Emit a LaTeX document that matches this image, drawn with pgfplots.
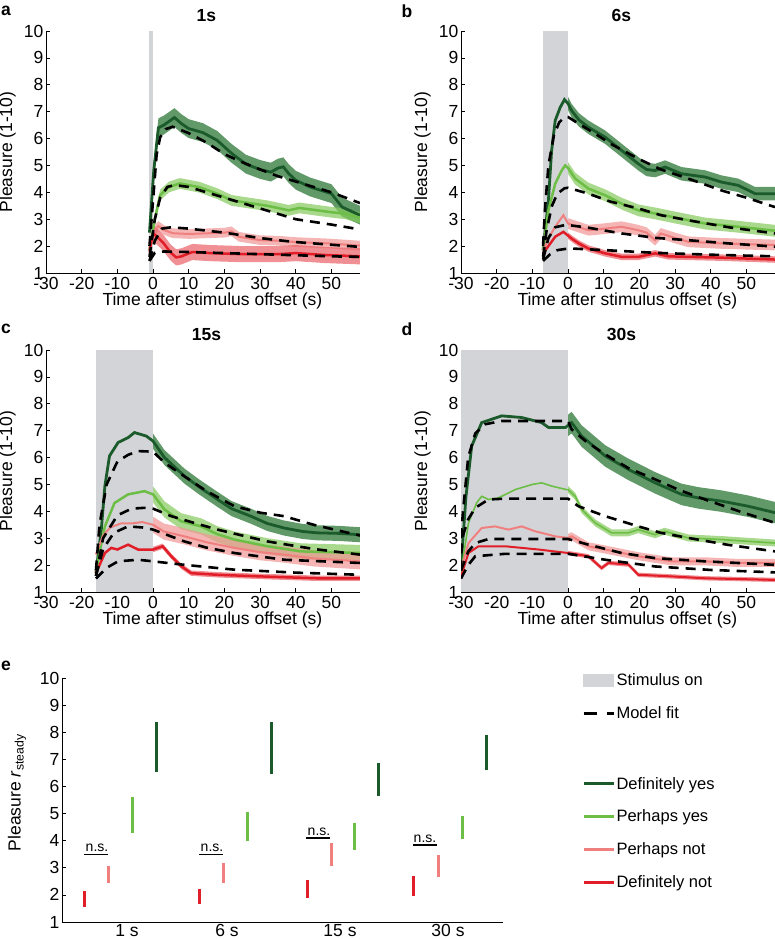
\documentclass[border=0pt]{standalone}
\usepackage{fontspec}
\setmainfont{Liberation Sans}
\usepackage{pgfplots}
\usepackage{pgfplotstable}
\pgfplotsset{compat=1.18}
\usepgfplotslibrary{fillbetween}
\newcommand{\fs}{\fontsize{17.5}{20}\selectfont}
\newcommand{\lfs}{\fontsize{16.5}{19}\selectfont}
\definecolor{dyline}{RGB}{27,90,42}
\definecolor{dyband}{RGB}{30,110,40}
\definecolor{pyline}{RGB}{108,190,70}
\definecolor{pyband}{RGB}{132,201,91}
\definecolor{pnline}{RGB}{240,128,128}
\definecolor{pnband}{RGB}{241,149,149}
\definecolor{dnline}{RGB}{225,30,40}
\definecolor{dnband}{RGB}{234,95,102}
\definecolor{stimgray}{RGB}{211,212,216}

% ---------- panel a (1 s) ----------
\pgfplotstableread{
x y e
-1 2.5 0.2
0.2 4.8 0.35
1.5 6.4 0.35
3 6.5 0.35
6 6.78 0.35
8 6.55 0.35
10 6.37 0.35
14 6.22 0.35
18 5.93 0.35
22 5.45 0.35
26 5.05 0.35
30 4.85 0.35
33 4.75 0.35
35 4.9 0.35
36.5 4.95 0.35
38 4.7 0.35
40 4.45 0.35
44 4.2 0.35
50 3.95 0.35
53 3.45 0.35
58 3.15 0.35
}\aDY
\pgfplotstableread{
x y e
-1 1.85 0.1
0.5 3.0 0.2
2 3.9 0.2
4.5 4.2 0.2
7.5 4.33 0.2
13 4.19 0.2
18 3.95 0.2
22 3.7 0.2
27 3.6 0.2
32 3.5 0.2
38 3.33 0.2
41 3.42 0.2
46 3.33 0.2
50 3.26 0.2
54 3.2 0.2
58 3.05 0.2
}\aPY
\pgfplotstableread{
x y e
-1 1.9 0.1
0.5 2.6 0.18
1.5 2.75 0.18
3 2.6 0.18
5.5 2.48 0.18
10 2.45 0.18
16 2.48 0.18
20 2.5 0.18
22 2.55 0.18
24 2.35 0.18
30 2.22 0.18
35 2.2 0.18
40 2.15 0.18
49 2.1 0.18
58 2.02 0.18
}\aPN
\pgfplotstableread{
x y e
-1 1.8 0.1
0 2.48 0.3
1.5 2.3 0.3
3 2.1 0.3
5 1.75 0.3
6.5 1.58 0.3
8 1.62 0.3
11 1.78 0.3
16 1.74 0.3
25 1.7 0.3
35 1.7 0.3
40 1.74 0.3
48 1.67 0.3
58 1.62 0.3
}\aDN
% ---------- panel b (6 s) ----------
\pgfplotstableread{
x y e
-7 1.85 0.1
-5.5 3.7 0.25
-4.6 5.56 0.25
-3.6 6.67 0.25
-2.2 7.16 0.25
-1 7.45 0.25
0 7.3 0.25
1 7.04 0.25
3 6.7 0.25
5.7 6.42 0.25
10.4 6.05 0.25
15 5.56 0.25
19.7 5.06 0.25
22 4.85 0.25
24.4 4.81 0.25
27.2 4.94 0.25
31.8 4.69 0.25
38.4 4.57 0.25
43 4.38 0.25
47.7 4.26 0.25
52.4 3.95 0.25
58 3.95 0.25
}\bDY
\pgfplotstableread{
x y e
-7 1.85 0.1
-5.5 3.33 0.22
-3.6 4.32 0.22
-1.8 4.81 0.22
-0.8 5.0 0.22
0 4.9 0.22
2 4.51 0.22
5.7 4.14 0.22
10.4 3.89 0.22
15 3.58 0.22
19.7 3.33 0.22
25 3.2 0.22
29 3.09 0.22
38.4 2.84 0.22
47.7 2.72 0.22
58 2.57 0.22
}\bPY
\pgfplotstableread{
x y e
-7 1.85 0.1
-5 2.4 0.2
-3.6 2.72 0.2
-1.3 3.15 0.2
0 2.84 0.2
2 2.75 0.2
5.7 2.59 0.2
10.4 2.65 0.2
15 2.72 0.2
19.7 2.59 0.2
22 2.5 0.2
24.4 2.22 0.2
26 2.47 0.2
30 2.3 0.2
33.7 2.16 0.2
43 2.1 0.2
58 2.04 0.2
}\bPN
\pgfplotstableread{
x y e
-7 1.73 0.08
-3.6 2.35 0.12
-1.3 2.53 0.12
1 2.28 0.12
3 2.1 0.12
5.7 1.91 0.12
10.4 1.73 0.12
15 1.6 0.12
19.7 1.6 0.12
24.4 1.73 0.12
28 1.62 0.12
33.7 1.6 0.12
43 1.57 0.12
58 1.5 0.12
}\bDN
% ---------- panel c (15 s) ----------
\pgfplotstableread{
x y e
-16 1.7 0.1
-14.5 3.32 0.28
-13.5 4.94 0.28
-12.2 6.06 0.28
-9.8 6.56 0.28
-7 6.74 0.28
-5.2 6.93 0.28
-1.9 6.8 0.28
0 6.61 0.28
3.2 6.0 0.28
8.8 5.31 0.28
13 4.9 0.28
18.1 4.44 0.28
22 4.1 0.28
27.4 3.82 0.28
32 3.55 0.28
36.7 3.38 0.28
42 3.25 0.28
46 3.2 0.28
52 3.18 0.28
58 3.13 0.28
}\cDY
\pgfplotstableread{
x y e
-16 1.75 0.1
-14.5 2.8 0.3
-13.5 3.44 0.3
-10.8 4.31 0.3
-7 4.63 0.3
-2.4 4.75 0.3
0 4.63 0.3
3.2 4.07 0.3
7.9 3.63 0.3
13.5 3.44 0.3
18 3.15 0.3
22.8 2.95 0.3
32.1 2.7 0.3
41.4 2.51 0.3
50 2.48 0.3
58 2.45 0.3
}\cPY
\pgfplotstableread{
x y e
-16 2.4 0.15
-14 3.1 0.3
-12 3.4 0.3
-9 3.55 0.3
-6 3.55 0.3
-3 3.6 0.3
0 3.5 0.3
3 3.25 0.3
8.8 3.07 0.3
15 2.85 0.3
22.8 2.64 0.3
30 2.48 0.3
36.7 2.39 0.3
45 2.25 0.3
58 2.14 0.3
}\cPN
\pgfplotstableread{
x y e
-16 1.7 0.08
-13.5 2.45 0.1
-11.7 2.64 0.1
-10 2.58 0.1
-7 2.76 0.1
-4.2 2.58 0.1
0 2.58 0.1
2.7 2.7 0.1
5.1 2.33 0.1
7.9 1.96 0.1
10.7 1.7 0.1
18.1 1.64 0.1
32.1 1.57 0.1
46 1.51 0.1
58 1.51 0.1
}\cDN
% ---------- panel d (30 s) ----------
\pgfplotstableread{
x y e
-30 1.95 0.15
-28.6 4.56 0.4
-27 6.43 0.4
-24.2 7.3 0.4
-18.6 7.55 0.4
-13 7.49 0.4
-7.4 7.3 0.4
-5.5 7.12 0.4
-0.7 7.12 0.4
1 7.3 0.4
3.8 6.8 0.4
10.4 6.06 0.4
16.9 5.56 0.4
24.4 5.06 0.4
31.8 4.63 0.4
36.5 4.5 0.4
43 4.38 0.4
50.5 4.19 0.4
58 3.95 0.4
}\dDY
\pgfplotstableread{
x y e
-30 1.7 0.04
-27.9 3.57 0.04
-25.6 4.32 0.04
-24.2 4.56 0.04
-22.3 4.44 0.04
-19.5 4.5 0.04
-14.8 4.81 0.04
-10 5.0 0.04
-7.4 5.06 0.04
-4.6 4.94 0.04
-0.5 4.81 0.04
0 4.81 0.13
2 4.56 0.13
3.8 4.07 0.13
7.6 3.57 0.13
12.2 3.2 0.13
16.9 3.2 0.13
19.7 3.32 0.13
24.4 3.13 0.13
27 3.26 0.13
33.7 3.01 0.13
43 2.95 0.13
58 2.82 0.13
}\dPY
\pgfplotstableread{
x y e
-30 1.83 0.1
-27.9 2.82 0.15
-24.2 3.38 0.15
-20.5 3.44 0.15
-16.7 3.32 0.15
-13 3.44 0.15
-9.3 3.26 0.15
-3.6 3.07 0.15
0 3.01 0.15
1 3.07 0.15
5.7 2.7 0.15
10.4 2.58 0.15
19.7 2.33 0.15
29 2.14 0.15
38.4 2.14 0.15
47.7 2.08 0.15
58 2.08 0.15
}\dPN
\pgfplotstableread{
x y e
-30 1.58 0.06
-27.9 2.45 0.08
-25.1 2.7 0.08
-17.6 2.7 0.08
-8.3 2.58 0.08
0 2.45 0.08
5.7 2.33 0.08
9.4 1.89 0.08
11.3 2.08 0.08
16.9 2.02 0.08
19.7 1.64 0.08
29 1.58 0.08
38.4 1.51 0.08
58 1.45 0.08
}\dDN

\newcommand{\band}[5]{% name, table, band colour, line colour, line width
  \addplot[name path=#1u, draw=none, forget plot] table[x=x, y expr=\thisrow{y}+\thisrow{e}] {#2};
  \addplot[name path=#1l, draw=none, forget plot] table[x=x, y expr=\thisrow{y}-\thisrow{e}] {#2};
  \addplot[fill=#3, fill opacity=0.7, draw=none, forget plot] fill between[of=#1u and #1l];
  \addplot[#4, line width=#5, forget plot] table[x=x, y=y] {#2};
}

\pgfplotsset{
  base/.style={scale only axis, ymin=1, ymax=10, ytick={1,...,10},
    axis x line*=bottom, axis y line*=left,
    axis line style={-, line width=0.8pt},
    tick align=inside, major tick length=4pt,
    tick style={black, line width=0.7pt},
    /pgf/number format/assume math mode=true,
    tick label style={font=\fs, inner sep=2.5pt}, label style={font=\fs},
  },
  tc/.style={base, width=314pt, height=242pt, xmin=-30, xmax=58,
    xtick={-30,-20,...,50},
    xticklabel style={yshift=-1.5pt},
    xlabel={Time after stimulus offset (s)}, ylabel={Pleasure (1-10)},
    xlabel style={at={(axis description cs:0.53,-0.115)}, anchor=center},
    ylabel style={at={(axis description cs:-0.122,0.5)}, anchor=center},
    title style={at={(axis description cs:0.511,1.041)}, anchor=center, yshift=0pt, font=\bfseries\fs},
  },
  fit/.style={black, line width=2.6pt, dash pattern=on 10pt off 7pt, forget plot},
}

\begin{document}
\begin{tikzpicture}

% ===== a =====
\begin{axis}[tc, name=A, at={(46pt,666pt)}, anchor=south west, title={1s}]
\addplot[fill=stimgray, draw=none, forget plot] coordinates {(-1,1) (-1,10) (0,10) (0,1)} --cycle;
\band{aDY}{\aDY}{dyband}{dyline}{2.8pt}
\band{aPY}{\aPY}{pyband}{pyline}{2.5pt}
\band{aPN}{\aPN}{pnband}{pnline}{2pt}
\band{aDN}{\aDN}{dnband}{dnline}{2.5pt}
\addplot[fit] table {
x y
-1 2.0
0 3.7
1 5.4
2 6.05
3.5 6.35
5.5 6.44
10 6.2
15 5.85
20 5.42
25 5.12
30 4.85
35 4.6
40 4.4
45 4.2
50 4.0
58 3.6
};
\addplot[fit] table {
x y
-1 1.6
0.5 3.0
2 3.8
4 4.2
6 4.27
10 4.2
15 4.0
20 3.8
25 3.6
30 3.4
35 3.2
40 3.0
45 2.9
50 2.8
58 2.62
};
\addplot[fit] table {
x y
-1 1.45
0.5 2.2
2.5 2.65
5 2.7
10 2.65
20 2.5
30 2.3
35 2.22
40 2.15
50 2.05
58 1.97
};
\addplot[fit] table {
x y
-1 1.45
0.5 1.75
3 1.8
10 1.78
20 1.74
30 1.7
40 1.66
50 1.62
58 1.6
};
\end{axis}
\node[font=\bfseries\fs, inner sep=0pt, xshift=-40pt, yshift=20pt] at (A.north west) {a};

% ===== b =====
\begin{axis}[tc, name=B, at={(461pt,666pt)}, anchor=south west, title={6s}]
\addplot[fill=stimgray, draw=none, forget plot] coordinates {(-7,1) (-7,10) (0,10) (0,1)} --cycle;
\band{bDY}{\bDY}{dyband}{dyline}{2.8pt}
\band{bPY}{\bPY}{pyband}{pyline}{2.5pt}
\band{bPN}{\bPN}{pnband}{pnline}{2pt}
\band{bDN}{\bDN}{dnband}{dnline}{2.5pt}
\addplot[fit] table {
x y
-7 2.0
-6.5 3.3
-5.5 5.0
-4 6.1
-2.5 6.6
-1 6.79
0 6.8
3 6.55
7.6 6.18
12 5.8
19.7 5.25
26 4.85
33.7 4.51
43 4.07
50 3.8
58 3.45
};
\addplot[fit] table {
x y
-7 1.6
-6 2.6
-4.5 3.5
-3 3.95
-1 4.15
0 4.17
5.7 3.95
12 3.65
19.7 3.4
26 3.15
33.7 2.96
45 2.7
58 2.47
};
\addplot[fit] table {
x y
-7 1.5
-5.5 2.3
-3.6 2.7
-1 2.78
0 2.78
5 2.7
15 2.47
25 2.3
33.7 2.22
45 2.1
58 1.98
};
\addplot[fit] table {
x y
-7 1.45
-5 1.7
-3 1.85
0 1.91
1 1.91
10.4 1.85
24.4 1.75
40 1.68
58 1.62
};
\end{axis}
\node[font=\bfseries\fs, inner sep=0pt, xshift=-54pt, yshift=20pt] at (B.north west) {b};

% ===== c =====
\begin{axis}[tc, name=C, at={(46pt,347pt)}, anchor=south west, title={15s}]
\addplot[fill=stimgray, draw=none, forget plot] coordinates {(-16,1) (-16,10) (0,10) (0,1)} --cycle;
\band{cDY}{\cDY}{dyband}{dyline}{2.8pt}
\band{cPY}{\cPY}{pyband}{pyline}{2.5pt}
\band{cPN}{\cPN}{pnband}{pnline}{2pt}
\band{cDN}{\cDN}{dnband}{dnline}{2.5pt}
\addplot[fit] table {
x y
-16 1.8
-15 3.5
-13 5.0
-10 5.85
-7 6.1
-4.2 6.24
0 6.22
3.2 5.81
8.8 5.3
15 4.75
22.8 4.19
30 3.95
36.7 3.82
45 3.5
58 3.1
};
\addplot[fit] table {
x y
-16 1.6
-14 3.0
-10 3.85
-6 4.1
-2.4 4.13
0 4.1
5.1 3.82
12 3.55
18.1 3.32
25 3.1
32.1 2.88
45 2.6
58 2.39
};
\addplot[fit] table {
x y
-16 1.6
-14 2.6
-11 3.2
-7 3.44
-3 3.4
0 3.32
8.8 2.88
15 2.65
22.8 2.45
36.7 2.2
58 2.08
};
\addplot[fit] table {
x y
-16 1.5
-13 1.9
-9.8 2.14
-4.2 2.2
0 2.14
8.8 2.01
22.8 1.83
40 1.72
58 1.64
};
\end{axis}
\node[font=\bfseries\fs, inner sep=0pt, xshift=-40pt, yshift=21pt] at (C.north west) {c};

% ===== d =====
\begin{axis}[tc, name=D, at={(461pt,347pt)}, anchor=south west, title={30s}]
\addplot[fill=stimgray, draw=none, forget plot] coordinates {(-30,1) (-30,10) (0,10) (0,1)} --cycle;
\band{dDY}{\dDY}{dyband}{dyline}{2.8pt}
\band{dPY}{\dPY}{pyband}{pyline}{1.6pt}
\band{dPN}{\dPN}{pnband}{pnline}{2pt}
\band{dDN}{\dDN}{dnband}{dnline}{2pt}
\addplot[fit] table {
x y
-30 3.0
-29.5 3.9
-28 6.0
-26 6.9
-23.2 7.24
-18.6 7.36
0 7.36
1 7.05
5 6.6
10.4 6.12
17 5.6
24.4 5.19
31 4.8
38.4 4.44
48 4.0
58 3.57
};
\addplot[fit] table {
x y
-30 1.8
-29.8 2.95
-28 3.7
-26 4.13
-22.3 4.44
-18 4.47
0 4.47
2.9 4.19
10.4 3.82
19.7 3.44
26 3.2
33.7 3.01
45 2.75
58 2.51
};
\addplot[fit] table {
x y
-30 1.8
-28 2.5
-26 2.82
-22.3 2.97
0 2.97
5.7 2.76
15 2.45
24.4 2.26
38.4 2.14
58 2.01
};
\addplot[fit] table {
x y
-30 1.5
-28 2.0
-26 2.33
-17.6 2.42
0 2.42
10.4 2.2
24.4 1.95
40 1.82
58 1.73
};
\end{axis}
\node[font=\bfseries\fs, inner sep=0pt, xshift=-54pt, yshift=21pt] at (D.north west) {d};

% ===== e =====
\begin{axis}[base, name=E, at={(62pt,17pt)}, anchor=south west,
  width=441pt, height=244pt, xmin=0, xmax=441, clip=false,
  xtick={65,165,278,386}, xticklabels={1 s,6 s,15 s,30 s},
  xtick style={draw=none},
  ylabel={Pleasure \textit{r}\textsubscript{steady}},
  ylabel style={at={(axis description cs:-0.102,0.53)}, anchor=center},
  unbounded coords=jump,
  legend style={at={(axis description cs:1.172,1.033)}, anchor=north west,
    draw=none, fill=none, font=\lfs, row sep=16.5pt,
    nodes={inner sep=1.5pt}},
  legend cell align=left,
]
\addplot[dnline, line width=3pt, forget plot] coordinates {
(22,1.56) (22,2.15) (22,nan) (137,1.66) (137,2.21) (137,nan)
(245,1.9) (245,2.55) (245,nan) (351,1.96) (351,2.69)};
\addplot[pnline, line width=3pt, forget plot] coordinates {
(46,2.43) (46,3.06) (46,nan) (161,2.43) (161,3.17) (161,nan)
(269,3.06) (269,3.92) (269,nan) (376,2.67) (376,3.47)};
\addplot[pyline, line width=3pt, forget plot] coordinates {
(70,4.29) (70,5.61) (70,nan) (185,3.98) (185,5.05) (185,nan)
(292,3.65) (292,4.65) (292,nan) (400,4.06) (400,4.91)};
\addplot[dyline, line width=3pt, forget plot] coordinates {
(94,6.54) (94,8.39) (94,nan) (209,6.46) (209,8.39) (209,nan)
(316,5.64) (316,6.86) (316,nan) (424,6.6) (424,7.9)};
\addplot[black, line width=1.2pt, forget plot] coordinates {
(22,3.5) (46,3.5) (46,nan) (137,3.5) (161,3.5) (161,nan)
(244,4.1) (268,4.1) (268,nan) (351,3.84) (375,3.84)};
\node[font=\fontsize{14}{16}\selectfont, anchor=south, inner sep=2pt] at (axis cs:35,3.52) {n.s.};
\node[font=\fontsize{14}{16}\selectfont, anchor=south, inner sep=2pt] at (axis cs:150,3.52) {n.s.};
\node[font=\fontsize{14}{16}\selectfont, anchor=south, inner sep=2pt] at (axis cs:257,4.12) {n.s.};
\node[font=\fontsize{14}{16}\selectfont, anchor=south, inner sep=2pt] at (axis cs:363,3.86) {n.s.};
\addlegendimage{legend image code/.code={\fill[stimgray] (0pt,-6pt) rectangle (30pt,6pt);}}
\addlegendentry{Stimulus on}
\addlegendimage{legend image code/.code={\draw[black, line width=3pt, dash pattern=on 13pt off 10pt] (0pt,0pt) -- (30pt,0pt);}}
\addlegendentry{Model fit}
\addlegendimage{legend image code/.code={\path[draw=none, fill=none] (0pt,-10.5pt) rectangle (30pt,10.5pt);}}
\addlegendentry{}
\addlegendimage{legend image code/.code={\draw[dyline, line width=3pt] (0pt,0pt) -- (30pt,0pt);}}
\addlegendentry{Definitely yes}
\addlegendimage{legend image code/.code={\draw[pyline, line width=3pt] (0pt,0pt) -- (30pt,0pt);}}
\addlegendentry{Perhaps yes}
\addlegendimage{legend image code/.code={\draw[pnline, line width=3pt] (0pt,0pt) -- (30pt,0pt);}}
\addlegendentry{Perhaps not}
\addlegendimage{legend image code/.code={\draw[dnline, line width=3pt] (0pt,0pt) -- (30pt,0pt);}}
\addlegendentry{Definitely not}
\end{axis}
\node[font=\bfseries\fs, inner sep=0pt, xshift=-56pt, yshift=12pt] at (E.north west) {e};
\pgfresetboundingbox
\path[use as bounding box] (0pt,0pt) rectangle (775pt,939pt);
\end{tikzpicture}
\end{document}
